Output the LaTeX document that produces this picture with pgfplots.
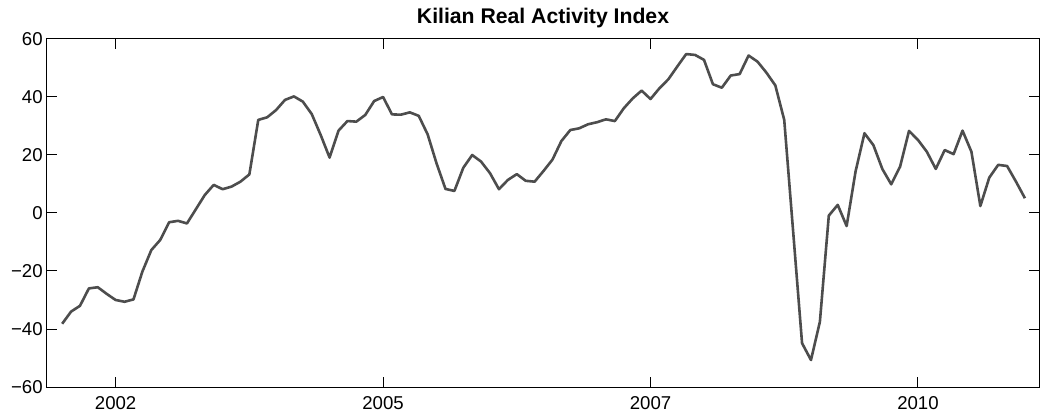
\documentclass[border=0pt]{standalone}
\usepackage{fontspec}
\setmainfont{Liberation Sans}
\usepackage{pgfplots}
\usepackage{pgfplotstable}
\pgfplotsset{compat=1.18}
\definecolor{linegray}{RGB}{77,77,77}

% monthly index, 0 = mid 2001
\pgfplotstableread{
t   rea
0   -38.2
1   -34.0
2   -32.0
3   -26.0
4   -25.6
5   -27.9
6   -30.0
7   -30.6
8   -29.8
9   -20.2
10  -12.8
11  -9.3
12  -3.2
13  -2.7
14  -3.6
15  1.3
16  6.2
17  9.7
18  8.2
19  9.1
20  10.8
21  13.3
22  32.1
23  33.0
24  35.5
25  39.0
26  40.2
27  38.4
28  34.1
29  26.9
30  19.1
31  28.4
32  31.7
33  31.5
34  33.8
35  38.6
36  40.0
37  34.0
38  33.9
39  34.7
40  33.5
41  27.1
42  17.1
43  8.3
44  7.6
45  15.6
46  20.0
47  17.7
48  13.7
49  8.2
50  11.4
51  13.4
52  11.1
53  10.8
54  14.5
55  18.4
56  24.8
57  28.6
58  29.2
59  30.6
60  31.3
61  32.3
62  31.7
63  36.1
64  39.5
65  42.2
66  39.3
67  43.0
68  46.1
69  50.5
70  54.8
71  54.5
72  52.8
73  44.4
74  43.2
75  47.4
76  47.9
77  54.3
78  52.2
79  48.4
80  44.0
81  32.1
82  -6.4
83  -44.9
84  -50.7
85  -37.5
86  -0.9
87  2.8
88  -4.5
89  14.3
90  27.5
91  23.4
92  15.2
93  9.9
94  16.0
95  28.3
96  25.2
97  21.1
98  15.2
99  21.7
100 20.3
101 28.4
102 21.1
103 2.4
104 12.2
105 16.6
106 16.2
107 10.8
108 5.1
}\reatable

\begin{document}
\begin{tikzpicture}
\begin{axis}[
    scale only axis,
    width=496pt, height=174pt,
    xmin=-1.7, xmax=109.58,
    ymin=-60, ymax=60,
    xtick={6,36,66,96},
    xticklabels={2002,2005,2007,2010},
    ytick={-60,-40,-20,0,20,40,60},
    yticklabels={−60,−40,−20,0,20,40,60},
    tick align=inside,
    major tick length=5pt,
    tick style={black, line width=0.5pt},
    axis line style={line width=0.5pt},
    tick label style={font=\fontsize{9.3}{11}\selectfont},
    xticklabel style={anchor=north, inner sep=0pt, yshift=-4.5pt},
    yticklabel style={anchor=east, inner sep=0pt, xshift=-2pt},
    title={\bfseries Kilian Real Activity Index},
    every axis title/.style={font=\fontsize{10.6}{12}\selectfont, at={(0.5,1)}, anchor=base, inner sep=0pt, yshift=7.5pt},
]
\addplot [linegray, line width=1.3pt, line join=round] table [x=t, y=rea] {\reatable};
\coordinate (bl) at (rel axis cs:0,0);
\coordinate (tr) at (rel axis cs:1,1);
\end{axis}
\pgfresetboundingbox
\path ([shift={(-23.5pt,-13pt)}]bl) rectangle ([shift={(1.5pt,19.5pt)}]tr);
\end{tikzpicture}
\end{document}
